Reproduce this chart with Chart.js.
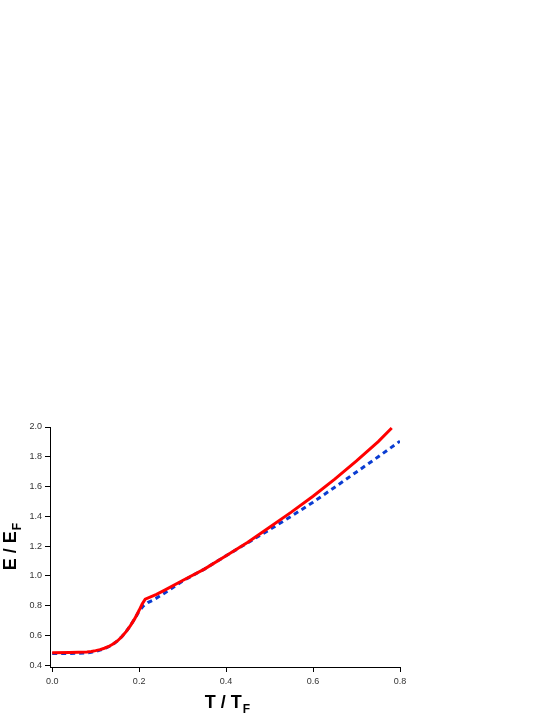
<!DOCTYPE html>
<html>
<head>
    <meta charset="UTF-8">
    <title>E / EF vs T / TF</title>
    <script src="https://cdn.jsdelivr.net/npm/chart.js"></script>
    <style>
        body { margin: 0; background: #fff; }
        #wrap { width: 554px; height: 717px; }
    </style>
</head>
<body>
<div id="wrap"><canvas id="grafico" width="554" height="717"></canvas></div>

<script>
// red solid curve
const tRed = [0, 0.04, 0.08, 0.09, 0.10, 0.11, 0.12, 0.13, 0.14, 0.15, 0.16, 0.17, 0.18, 0.19, 0.20, 0.207, 0.214, 0.24, 0.26, 0.30, 0.35, 0.40, 0.45, 0.50, 0.55, 0.60, 0.65, 0.70, 0.75, 0.781];
const eRed = [0.483, 0.485, 0.488, 0.491, 0.497, 0.504, 0.513, 0.525, 0.541, 0.562, 0.590, 0.625, 0.665, 0.712, 0.768, 0.810, 0.843, 0.875, 0.905, 0.968, 1.045, 1.135, 1.226, 1.326, 1.428, 1.535, 1.650, 1.772, 1.902, 1.993];

// blue dashed curve
const tBlue = [0, 0.04, 0.08, 0.09, 0.10, 0.11, 0.12, 0.13, 0.14, 0.15, 0.16, 0.17, 0.18, 0.19, 0.20, 0.21, 0.22, 0.233, 0.25, 0.264, 0.30, 0.35, 0.40, 0.45, 0.50, 0.55, 0.60, 0.65, 0.70, 0.75, 0.80];
const eBlue = [0.478, 0.478, 0.482, 0.486, 0.492, 0.500, 0.510, 0.523, 0.540, 0.562, 0.590, 0.624, 0.665, 0.712, 0.762, 0.798, 0.820, 0.838, 0.868, 0.894, 0.965, 1.045, 1.135, 1.222, 1.310, 1.400, 1.495, 1.595, 1.698, 1.800, 1.905];

const xTicks = [0, 0.2, 0.4, 0.6, 0.8];
const yTicks = [0.4, 0.6, 0.8, 1.0, 1.2, 1.4, 1.6, 1.8, 2.0];

function pts(xs, ys) {
    return xs.map((x, i) => ({ x: x, y: ys[i] }));
}

// axis titles with subscript F
const tituloPlugin = {
    id: 'titulos',
    afterDraw(chart) {
        const ctx = chart.ctx;
        const area = chart.chartArea;
        function sub(main, s, cx, cy) {
            ctx.font = 'bold 18px "Liberation Sans", Arial, sans-serif';
            const w1 = ctx.measureText(main).width;
            ctx.font = 'bold 12px "Liberation Sans", Arial, sans-serif';
            const w2 = ctx.measureText(s).width;
            const x0 = cx - (w1 + w2) / 2;
            ctx.fillStyle = '#000';
            ctx.textBaseline = 'alphabetic';
            ctx.textAlign = 'left';
            ctx.font = 'bold 18px "Liberation Sans", Arial, sans-serif';
            ctx.fillText(main, x0, cy);
            ctx.font = 'bold 12px "Liberation Sans", Arial, sans-serif';
            ctx.fillText(s, x0 + w1 + 1, cy + 5);
        }
        ctx.save();
        sub('T / T', 'F', (area.left + area.right) / 2 + 2, 708);
        ctx.restore();

        ctx.save();
        ctx.translate(16, (area.top + area.bottom) / 2);
        ctx.rotate(-Math.PI / 2);
        sub('E / E', 'F', 0, 0);
        ctx.restore();
    }
};

new Chart(document.getElementById('grafico'), {
    type: 'scatter',
    data: {
        datasets: [{
            label: 'rojo',
            data: pts(tRed, eRed),
            showLine: true,
            borderColor: '#ff0000',
            borderWidth: 3,
            pointRadius: 0,
            tension: 0,
            fill: false
        }, {
            label: 'azul',
            data: pts(tBlue, eBlue),
            showLine: true,
            borderColor: '#0a3cd2',
            borderWidth: 3,
            borderDash: [5, 4],
            pointRadius: 0,
            tension: 0,
            fill: false
        }]
    },
    options: {
        responsive: false,
        animation: false,
        layout: { padding: { top: 427, right: 154, left: 0, bottom: 0 } },
        plugins: {
            legend: { display: false },
            tooltip: { enabled: false }
        },
        scales: {
            x: {
                type: 'linear',
                min: -0.005,
                max: 0.8,
                afterBuildTicks: s => { s.ticks = xTicks.map(v => ({ value: v })); },
                afterFit: s => { s.height = 50; },
                grid: { display: true, drawOnChartArea: false, drawTicks: true, tickLength: 5, color: '#000' },
                border: { display: true, color: '#000', width: 1 },
                ticks: {
                    color: '#333',
                    padding: 4,
                    maxRotation: 0,
                    font: { family: '"Liberation Sans", Arial, sans-serif', size: 9 },
                    callback: v => v.toFixed(1)
                }
            },
            y: {
                type: 'linear',
                min: 0.387,
                max: 2.0,
                afterBuildTicks: s => { s.ticks = yTicks.map(v => ({ value: v })); },
                afterFit: s => { s.width = 50; },
                grid: { display: true, drawOnChartArea: false, drawTicks: true, tickLength: 5, color: '#000' },
                border: { display: true, color: '#000', width: 1 },
                ticks: {
                    color: '#333',
                    padding: 3,
                    font: { family: '"Liberation Sans", Arial, sans-serif', size: 9 },
                    callback: v => v.toFixed(1)
                }
            }
        }
    },
    plugins: [tituloPlugin]
});
</script>
</body>
</html>
